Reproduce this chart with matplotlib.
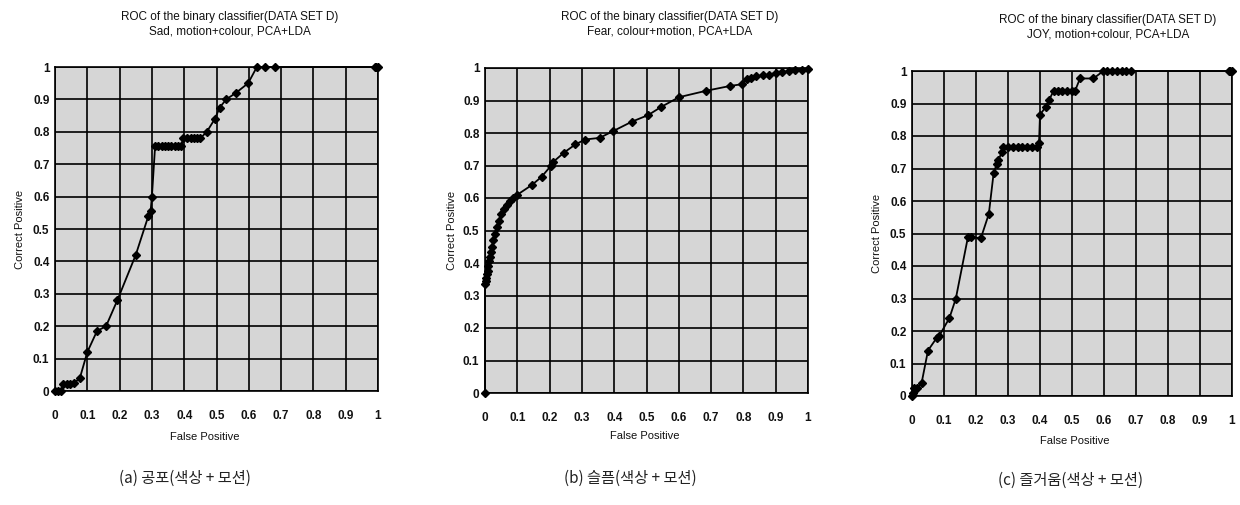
import matplotlib
matplotlib.use("Agg")
import matplotlib.pyplot as plt
import numpy as np

W, H = 1240, 505

# ---- data ----
ticks = [0, 0.1, 0.2, 0.3, 0.4, 0.5, 0.6, 0.7, 0.8, 0.9, 1.0]
tick_labels = ["0", "0.1", "0.2", "0.3", "0.4", "0.5", "0.6", "0.7", "0.8", "0.9", "1"]

sad_fp = [0.0, 0.01, 0.02, 0.026, 0.036, 0.046, 0.06, 0.077, 0.10, 0.13, 0.158, 0.193, 0.25, 0.289, 0.296,
          0.30, 0.31, 0.32, 0.33, 0.34, 0.35, 0.36, 0.37, 0.38, 0.39,
          0.397, 0.41, 0.42, 0.43, 0.44, 0.45, 0.47, 0.495, 0.51, 0.53, 0.56, 0.598,
          0.625, 0.65, 0.68, 0.99, 0.995, 1.0]
sad_tp = [0.0, 0.0, 0.0, 0.023, 0.023, 0.023, 0.025, 0.04, 0.12, 0.185, 0.2, 0.28, 0.42, 0.54, 0.555,
          0.6, 0.757, 0.757, 0.757, 0.757, 0.757, 0.757, 0.757, 0.757, 0.757,
          0.78, 0.78, 0.78, 0.78, 0.78, 0.78, 0.80, 0.84, 0.875, 0.90, 0.92, 0.95,
          1.0, 1.0, 1.0, 1.0, 1.0, 1.0]

fear_fp = [0.0, 0.0, 0.002, 0.004, 0.006, 0.008, 0.010, 0.013, 0.016, 0.019, 0.022, 0.026, 0.030,
           0.036, 0.042, 0.050, 0.058, 0.067, 0.077, 0.087, 0.10, 0.145, 0.175, 0.205, 0.21, 0.245,
           0.28, 0.31, 0.355, 0.395, 0.455, 0.505, 0.545, 0.60, 0.685, 0.76, 0.795, 0.81, 0.825,
           0.84, 0.86, 0.88, 0.90, 0.92, 0.94, 0.96, 0.98, 1.0]
fear_tp = [0.0, 0.335, 0.345, 0.355, 0.365, 0.375, 0.39, 0.405, 0.42, 0.435, 0.45, 0.47, 0.49,
           0.51, 0.53, 0.55, 0.565, 0.58, 0.59, 0.60, 0.61, 0.64, 0.665, 0.70, 0.71, 0.74,
           0.765, 0.78, 0.785, 0.805, 0.835, 0.855, 0.88, 0.91, 0.93, 0.945, 0.95, 0.965, 0.97,
           0.975, 0.977, 0.98, 0.985, 0.987, 0.99, 0.993, 0.995, 0.998]

joy_fp = [0.0, 0.002, 0.005, 0.015, 0.03, 0.05, 0.078, 0.085, 0.117, 0.137, 0.175, 0.183, 0.215, 0.24,
          0.255, 0.265, 0.27, 0.28, 0.285, 0.30, 0.315, 0.33, 0.345, 0.36, 0.375, 0.39, 0.397,
          0.40, 0.418, 0.428, 0.443, 0.455, 0.47, 0.485, 0.50, 0.51, 0.525, 0.567, 0.598,
          0.61, 0.625, 0.64, 0.655, 0.67, 0.685, 0.99, 0.995, 1.0]
joy_tp = [0.0, 0.01, 0.025, 0.025, 0.04, 0.14, 0.18, 0.185, 0.24, 0.30, 0.49, 0.49, 0.485, 0.56,
          0.685, 0.715, 0.725, 0.75, 0.765, 0.765, 0.765, 0.765, 0.765, 0.765, 0.765, 0.765, 0.78,
          0.865, 0.89, 0.91, 0.94, 0.94, 0.94, 0.94, 0.94, 0.94, 0.977, 0.977, 1.0,
          1.0, 1.0, 1.0, 1.0, 1.0, 1.0, 1.0, 1.0, 1.0]

titles = ["ROC of the binary classifier(DATA SET D)\nSad, motion+colour, PCA+LDA",
          "ROC of the binary classifier(DATA SET D)\nFear, colour+motion, PCA+LDA",
          "ROC of the binary classifier(DATA SET D)\nJOY, motion+colour, PCA+LDA"]
captions = ["(a) 공포(색상 + 모션)", "(b) 슬픔(색상 + 모션)", "(c) 즐거움(색상 + 모션)"]
xlabel = "False Positive"
ylabel = "Correct Positive"

series = [(sad_fp, sad_tp), (fear_fp, fear_tp), (joy_fp, joy_tp)]

# ---- layout (pixel boxes: left, right, top, bottom) ----
boxes = [(55, 378, 67, 391), (485, 808, 68, 393), (912, 1232, 71, 396)]
title_pos = [(230, 24), (670, 24), (1108, 27)]
ylabel_x = [20, 452, 877]
xlabel_pos = [(205, 437), (645, 436), (1075, 441)]
caption_pos = [(185, 478), (630, 478), (1070, 480)]

plt.rcParams['font.family'] = ['Liberation Sans', 'DejaVu Sans']

fig = plt.figure(figsize=(W / 100, H / 100), dpi=100)
fig.patch.set_facecolor('white')

for i, ((x0, x1, y0, y1), (fp, tp)) in enumerate(zip(boxes, series)):
    ax = fig.add_axes([x0 / W, 1 - y1 / H, (x1 - x0) / W, (y1 - y0) / H])
    ax.set_facecolor('#d6d6d6')
    ax.set_xlim(0, 1)
    ax.set_ylim(0, 1)
    ax.set_xticks(ticks)
    ax.set_yticks(ticks)
    ax.set_xticklabels(tick_labels)
    ax.set_yticklabels(tick_labels)
    ax.tick_params(length=0, labelsize=8.5, pad=4)
    ax.tick_params(axis='x', pad=14)
    for lab in ax.get_xticklabels() + ax.get_yticklabels():
        lab.set_fontweight('bold')
        lab.set_color('#111111')
    ax.grid(True, color='black', linewidth=1.2)
    ax.set_axisbelow(True)
    for s in ax.spines.values():
        s.set_color('black')
        s.set_linewidth(1.2)
    ax.plot(fp, tp, color='black', linewidth=1.3, marker='D', markersize=3.6,
            markerfacecolor='black', markeredgecolor='black', clip_on=False, zorder=5)

    tx, ty = title_pos[i]
    fig.text(tx / W, 1 - ty / H, titles[i], ha='center', va='center', fontsize=8.5,
             linespacing=1.25, color='#111111')
    fig.text(ylabel_x[i] / W, 1 - ((y0 + y1) / 2) / H, ylabel, rotation=90,
             ha='center', va='center', fontsize=8, color='#111111')
    lx, ly = xlabel_pos[i]
    fig.text(lx / W, 1 - ly / H, xlabel, ha='center', va='center', fontsize=8,
             color='#111111')
    cx, cy = caption_pos[i]
    fig.text(cx / W, 1 - cy / H, captions[i], ha='center', va='center', fontsize=11,
             family=['Noto Sans CJK KR', 'DejaVu Sans'], color='#222222')

fig.savefig('out.png', dpi=100)
